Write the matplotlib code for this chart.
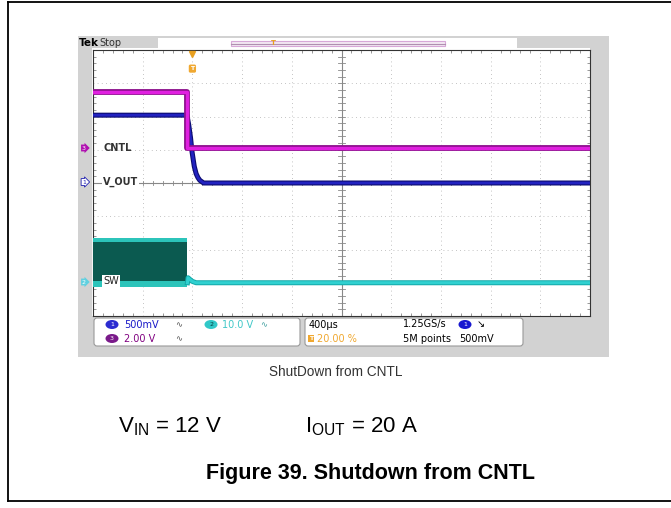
import matplotlib
matplotlib.use("Agg")
import matplotlib.pyplot as plt
from matplotlib.patches import Rectangle, FancyBboxPatch, Ellipse

W, H = 671, 508

# scope time base: 400 us/div, trigger at 20 % of record
t_span = [-800, 3200]

# channel 3: CNTL (2 V/div)
cntl_t = [-800, -40, -40, 3200]
cntl_v = [3.35, 3.35, 0.0, 0.0]

# channel 1: V_OUT (500 mV/div)
vout_t = [-800, -44, -30, -15, -3, 15, 30, 45, 60, 90, 3200]
vout_v = [1.02, 1.02, 0.88, 0.68, 0.47, 0.25, 0.14, 0.08, 0.04, 0.0, 0.0]

# channel 2: SW (10 V/div) - switching burst then idle
sw_on_t = [-800, -40]
sw_hi = [13.4, 13.4]
sw_hi_inner = [12.2, 12.2]
sw_lo_inner = [0.4, 0.4]
sw_lo = [-1.4, -1.4]
sw_off_t = [-40, -35, -20, 0, 30, 3200]
sw_off_v = [0.0, 1.5, 1.0, 0.4, 0.0, 0.0]

# volts/div and ground offset (divisions above centre)
ch_scale = {"1": 0.5, "2": 10.0, "3": 2.0}
ch_offset = {"1": 0.0, "2": -3.0, "3": 1.05}

info_left = [("1", "500mV", "#2b2bd0", "#1818c8"), ("3", "2.00 V", "#7a1a8a", "#800080")]
plt.rcParams['font.family'] = ['DejaVu Sans']

fig = plt.figure(figsize=(W / 100, H / 100), dpi=100)


def pixel_axes(z):
    a = fig.add_axes([0, 0, 1, 1], zorder=z)
    a.set_xlim(0, W)
    a.set_ylim(H, 0)
    a.axis("off")
    a.patch.set_visible(False)
    return a


bg = pixel_axes(0)
page = pixel_axes(10)

# document frame (top, left, bottom)
bg.plot([8, W], [2, 2], color="black", lw=1.3)
bg.plot([8, 8], [2, 501], color="black", lw=1.3)
bg.plot([8, W], [501, 501], color="black", lw=1.3)

# scope screen background
bg.add_patch(Rectangle((78, 36), 531, 321, fc="#d2d2d2", ec="none"))
bg.add_patch(Rectangle((158, 38), 359, 9.5, fc="white", ec="none"))
bg.add_patch(Rectangle((231, 40.5), 214, 5, fc="#f3e8f3", ec="#d8a8d8", lw=0.8))
bg.plot([231, 445], [43.5, 43.5], color="#b090b0", lw=0.8)
bg.text(273, 43, "T", color="#e8a020", fontsize=5, ha="center", va="center", fontweight="bold")
bg.text(79, 42.5, "Tek", fontsize=7.5, fontweight="bold", va="center")
bg.text(99, 42.5, "Stop", fontsize=7, color="#333333", va="center")
bg.add_patch(Rectangle((92, 48), 498, 268, fc="white", ec="none"))

# graticule (in divisions)
gl, gb = 93 / W, (H - 316) / H
gw, gh = 497 / W, 266 / H
grat = fig.add_axes([gl, gb, gw, gh], zorder=1)
grat.set_xlim(-5, 5)
grat.set_ylim(-4, 4)
grat.set_xticks(range(-5, 6))
grat.set_yticks(range(-4, 5))
grat.set_xticks([i / 5 for i in range(-25, 26)], minor=True)
grat.set_yticks([i / 5 for i in range(-20, 21)], minor=True)
grat.tick_params(which="both", direction="in", top=True, right=True,
                 labelbottom=False, labelleft=False, color="#888888")
grat.tick_params(which="major", length=0)
grat.tick_params(which="minor", length=2.5, width=0.6)
grat.grid(True, which="major", color="#b0b0b0", lw=0.6, ls=(0, (1, 4)))
grat.axhline(0, color="#888888", lw=0.8)
grat.axvline(0, color="#888888", lw=0.8)
for i in range(-25, 26):
    grat.plot([i / 5, i / 5], [-0.07, 0.07], color="#888888", lw=0.6)
for i in range(-20, 21):
    grat.plot([-0.07, 0.07], [i / 5, i / 5], color="#888888", lw=0.6)
for s in grat.spines.values():
    s.set_color("#333333")
    s.set_linewidth(0.8)


def channel_axes(ch, z):
    a = fig.add_axes([gl, gb, gw, gh], zorder=z)
    a.patch.set_visible(False)
    a.axis("off")
    a.set_xlim(t_span)
    sc, off = ch_scale[ch], ch_offset[ch]
    a.set_ylim((-4 - off) * sc, (4 - off) * sc)
    return a


ax_sw = channel_axes("2", 2)
ax_sw.fill_between(sw_on_t, sw_lo, sw_hi, color="#0b5a50", lw=0)
ax_sw.fill_between(sw_on_t, sw_hi_inner, sw_hi, color="#2cc4ba", lw=0)
ax_sw.fill_between(sw_on_t, sw_lo, sw_lo_inner, color="#2cc4ba", lw=0)
ax_sw.plot(sw_off_t, sw_off_v, color="#12a8a8", lw=3.6)
ax_sw.plot(sw_off_t, sw_off_v, color="#30d0d0", lw=2.2)

ax_vo = channel_axes("1", 3)
ax_vo.plot(vout_t, vout_v, color="#0c0c70", lw=3.6)
ax_vo.plot(vout_t, vout_v, color="#2222c0", lw=2.0)

ax_cn = channel_axes("3", 4)
ax_cn.plot(cntl_t, cntl_v, color="#8c108c", lw=4.2)
ax_cn.plot(cntl_t, cntl_v, color="#e020e0", lw=2.4)

# trigger position marker
ax_cn.plot([0], [0.985], transform=ax_cn.get_xaxis_transform(), marker="v",
           color="#e8a020", ms=4, clip_on=False)
ax_cn.text(0, 0.93, "T", transform=ax_cn.get_xaxis_transform(), ha="center", va="center",
           fontsize=4.5, color="white", fontweight="bold",
           bbox=dict(boxstyle="round,pad=0.25", fc="#f0a830", ec="none"))

# channel markers and labels
page.text(84, 148, "3", fontsize=4.5, color="white", ha="center", va="center",
          bbox=dict(boxstyle="rarrow,pad=0.15", fc="#b010b0", ec="none"))
page.text(84, 182, "1", fontsize=4.5, color="#2020b0", ha="center", va="center",
          bbox=dict(boxstyle="rarrow,pad=0.15", fc="white", ec="#2020b0", lw=0.6))
page.text(84, 282, "2", fontsize=4.5, color="white", ha="center", va="center",
          bbox=dict(boxstyle="rarrow,pad=0.15", fc="#60d0e0", ec="none"))
page.text(103, 148, "CNTL", fontsize=7, color="#333333", va="center", fontweight="bold")
page.text(103, 182, "V_OUT", fontsize=7, color="#333333", va="center", fontweight="bold",
          bbox=dict(boxstyle="square,pad=0.1", fc="white", ec="none"))
page.text(103, 281, "SW", fontsize=7, color="#222222", va="center",
          bbox=dict(boxstyle="square,pad=0.15", fc="white", ec="none"))

# readout panels
page.add_patch(FancyBboxPatch((94, 318), 206, 28, boxstyle="round,pad=0,rounding_size=3",
                              fc="white", ec="#999999", lw=0.8, zorder=0))
page.add_patch(FancyBboxPatch((305, 318), 218, 28, boxstyle="round,pad=0,rounding_size=3",
                              fc="white", ec="#999999", lw=0.8, zorder=0))
for k, (ch, txt, fc, tc) in enumerate(info_left):
    y = 324.5 + k * 14
    page.add_patch(Ellipse((112, y), 13, 9, fc=fc, ec="none"))
    page.text(112, y, ch, fontsize=4.5, color="white", ha="center", va="center")
    page.text(124, y, txt, fontsize=7, color=tc, va="center")
    page.text(175, y, "∿", fontsize=6, color="#555555", va="center")
page.add_patch(Ellipse((211, 324.5), 13, 9, fc="#30c8c8", ec="none"))
page.text(211, 324.5, "2", fontsize=4.5, color="#064040", ha="center", va="center")
page.text(222, 324.5, "10.0 V", fontsize=7, color="#40c8c8", va="center")
page.text(260, 324.5, "∿", fontsize=6, color="#40a0a0", va="center")

page.text(309, 324.5, "400µs", fontsize=7, va="center")
page.text(311, 338.5, "T", fontsize=4.5, color="white", ha="center", va="center", fontweight="bold",
          bbox=dict(boxstyle="square,pad=0.15", fc="#f0a830", ec="none"))
page.text(317, 338.5, "20.00 %", fontsize=7, color="#f0a830", va="center")
page.text(403, 324.5, "1.25GS/s", fontsize=7, va="center")
page.text(403, 338.5, "5M points", fontsize=7, va="center")
page.add_patch(Ellipse((465, 324.5), 13, 9, fc="#1818d0", ec="none"))
page.text(465, 324.5, "1", fontsize=4.5, color="white", ha="center", va="center")
page.text(477, 324.5, "↘", fontsize=7, va="center")
page.text(459, 338.5, "500mV", fontsize=7, va="center")

# captions
cap = "Liberation Sans"
page.text(336, 372, "ShutDown from CNTL", fontsize=9.8, family=cap, color="#333333",
          ha="center", va="center")
page.text(118, 427, r"V$_\mathregular{IN}$ = 12 V", fontsize=16, family=cap, va="center")
page.text(305, 427, r"I$_\mathregular{OUT}$ = 20 A", fontsize=16, family=cap, va="center")
page.text(371, 473, "Figure 39. Shutdown from CNTL", fontsize=15.5, family=cap,
          fontweight="bold", ha="center", va="center")

fig.savefig("out.png", dpi=100)
